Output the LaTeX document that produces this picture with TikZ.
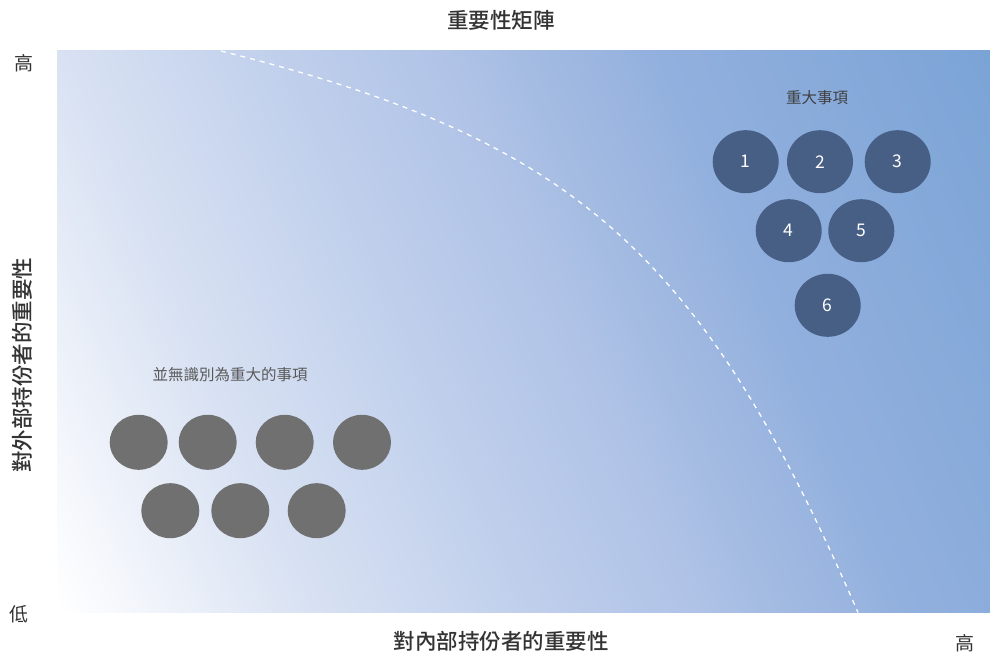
\documentclass[tikz,border=0pt]{standalone}
\usepackage{fontspec}
\setmainfont{Noto Sans CJK TC}[BoldFont={Noto Sans CJK TC Medium}]
\usetikzlibrary{shapes.geometric}
\definecolor{g0}{HTML}{FFFFFF}
\definecolor{g1}{HTML}{D9E2F3}
\definecolor{g2}{HTML}{BECEEB}
\definecolor{g3}{HTML}{B0C3E7}
\definecolor{g4}{HTML}{A5BCE2}
\definecolor{g5}{HTML}{92B0DE}
\definecolor{g6}{HTML}{7BA4D6}
\definecolor{bluedot}{HTML}{475F85}
\definecolor{graydot}{HTML}{707070}
\definecolor{titlec}{HTML}{333333}
\definecolor{labc}{HTML}{404040}
\definecolor{lab2c}{HTML}{595959}
\pgfdeclarehorizontalshading{bgshade}{100bp}{color(0bp)=(g0); color(25bp)=(g0); color(35.5bp)=(g1); color(45.5bp)=(g2); color(52bp)=(g3); color(55bp)=(g4); color(61bp)=(g5); color(75bp)=(g6); color(100bp)=(g6)}
\tikzset{
  bdot/.style={ellipse, fill=bluedot, minimum width=66pt, minimum height=63pt, inner sep=0pt, text=white, font=\fontsize{17.5}{17.5}\selectfont},
  gdot/.style={ellipse, fill=graydot, minimum width=58pt, minimum height=55pt, inner sep=0pt},
  axtitle/.style={text=titlec, font=\fontsize{21.5}{21.5}\selectfont\bfseries, inner sep=0pt},
  endlab/.style={text=titlec, font=\fontsize{19}{19}\selectfont, inner sep=0pt},
  grouplab/.style={font=\fontsize{15.5}{15.5}\selectfont, inner sep=0pt},
  divider/.style={white, line width=1.3pt, dash pattern=on 5pt off 5pt}
}
\begin{document}
\begin{tikzpicture}[x=1pt, y=-1pt]
\useasboundingbox (0,0) rectangle (990,655);
\fill[white] (0,0) rectangle (990,655);
% plot background
\begin{scope}
  \clip (57,51) rectangle (990,612.5);
  \shade[shading=bgshade, shading angle=24] (-17,-208.75) rectangle (1064,872.25);
\end{scope}
% divider curve
\coordinate (cA) at (221,51);
\coordinate (cB) at (858,612.5);
\draw[divider] (cA) .. controls (574,139) and (701,251) .. (cB);
% titles
\node[axtitle] (title) at (501,20) {重要性矩陣};
\node[axtitle] (xlab) at (501,641) {對內部持份者的重要性};
\node[axtitle, rotate=90] (ylab) at (22,365) {對外部持份者的重要性};
\node[endlab] (yhi) at (24,63) {高};
\node[endlab] (ylo) at (19,614) {低};
\node[endlab] (xhi) at (965,643) {高};
% material issues
\node[grouplab, text=labc] (majlab) at (817,98) {重大事項};
\node[bdot] (m1) at (745.7,161.7) {1};
\node[bdot] (m2) at (820,161.7) {2};
\node[bdot] (m3) at (897.7,161.7) {3};
\node[bdot] (m4) at (788.7,230.7) {4};
\node[bdot] (m5) at (861.3,230.7) {5};
\node[bdot] (m6) at (827.7,305.3) {6};
% non-material issues
\node[grouplab, text=lab2c] (minlab) at (230,375) {並無識別為重大的事項};
\node[gdot] (n1) at (138.7,442.3) {};
\node[gdot] (n2) at (207.7,442.3) {};
\node[gdot] (n3) at (284.7,442.3) {};
\node[gdot] (n4) at (362,442.3) {};
\node[gdot] (n5) at (170.3,510.7) {};
\node[gdot] (n6) at (240.3,510.7) {};
\node[gdot] (n7) at (316.7,510.7) {};
\end{tikzpicture}
\end{document}
